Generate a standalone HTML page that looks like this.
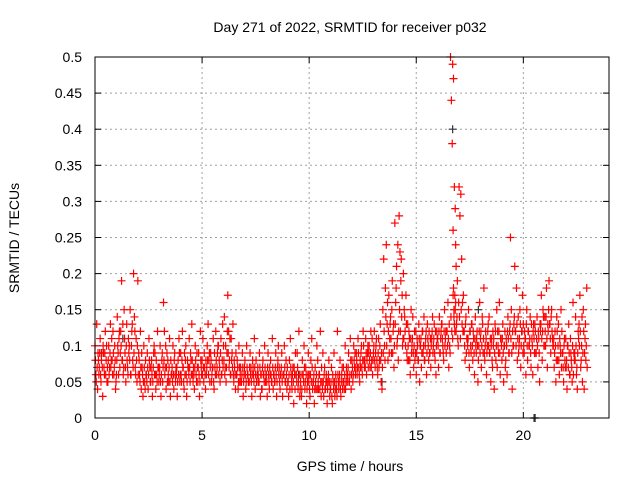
<!DOCTYPE html>
<html><head><meta charset="utf-8"><style>
body{margin:0;background:#fff;}
svg text{font-family:"Liberation Sans",sans-serif;font-size:14px;fill:#000;}
</style></head><body>
<svg id="chart" width="640" height="480" xmlns="http://www.w3.org/2000/svg">
<text x="350" y="32" text-anchor="middle">Day 271 of 2022, SRMTID for receiver p032</text>
<text x="350" y="471" text-anchor="middle">GPS time / hours</text>
<text transform="translate(19,238) rotate(-90)" text-anchor="middle">SRMTID / TECUs</text>
<g id="grid"></g>
<g id="points"></g>
<rect x="95" y="57" width="514" height="361" fill="none" stroke="#000" stroke-width="1"/>
</svg>
<script>
const xTicks=[0,5,10,15,20];
const yTicks=[0,0.05,0.1,0.15,0.2,0.25,0.3,0.35,0.4,0.45,0.5];
const yTickLabels=["0","0.05","0.1","0.15","0.2","0.25","0.3","0.35","0.4","0.45","0.5"];
const times=[0,0.2,0.4,0.6,0.8,1.0,1.2,1.4,1.6,1.8,2.0,2.2,2.4,2.6,2.8,3.0,3.2,3.4,3.6,3.8,4.0,4.2,4.4,4.6,4.8,5.0,5.2,5.4,5.6,5.8,6.0,6.2,6.4,6.6,6.8,7.0,7.2,7.4,7.6,7.8,8.0,8.2,8.4,8.6,8.8,9.0,9.2,9.4,9.6,9.8,10.0,10.2,10.4,10.6,10.8,11.0,11.2,11.4,11.6,11.8,12.0,12.2,12.4,12.6,12.8,13.0,13.2,13.4,13.6,13.8,14.0,14.2,14.4,14.6,14.8,15.0,15.2,15.4,15.6,15.8,16.0,16.2,16.4,16.6,16.7,16.8,17.0,17.2,17.4,17.6,17.8,18.0,18.2,18.4,18.6,18.8,19.0,19.2,19.4,19.6,19.8,20.0,20.2,20.4,20.6,20.8,21.0,21.2,21.4,21.6,21.8,22.0,22.2,22.4,22.6,22.8];
const values=[
[.10,.06,.13,.04,.08],[.07,.11,.05,.09,.03],[.09,.06,.12,.08,.05],[.05,.10,.07,.13,.08],[.08,.12,.06,.10,.04],
[.06,.14,.09,.11,.07],[.12,.19,.08,.06,.15],[.09,.05,.13,.07,.11],[.10,.15,.06,.12,.08],[.20,.14,.07,.11,.05],
[.19,.09,.06,.12,.04],[.07,.03,.10,.05,.08],[.06,.09,.04,.11,.07],[.05,.08,.03,.07,.10],[.09,.04,.06,.12,.07],
[.06,.10,.03,.08,.05],[.16,.12,.07,.04,.09],[.08,.05,.11,.03,.06],[.07,.10,.04,.09,.05],[.06,.03,.08,.11,.05],
[.09,.05,.12,.07,.04],[.06,.10,.03,.08,.07],[.11,.05,.08,.13,.06],[.07,.04,.10,.06,.09],[.05,.09,.03,.12,.07],
[.08,.11,.05,.07,.04],[.06,.10,.13,.08,.05],[.09,.05,.07,.11,.04],[.07,.12,.06,.09,.10],[.08,.05,.11,.06,.13],
[.10,.14,.07,.05,.09],[.17,.12,.08,.06,.11],[.09,.13,.05,.07,.04],[.06,.08,.04,.10,.05],[.07,.05,.09,.03,.06],
[.08,.04,.10,.06,.05],[.05,.09,.07,.03,.08],[.06,.11,.04,.08,.05],[.07,.05,.09,.03,.06],[.04,.08,.06,.10,.05],
[.06,.03,.09,.05,.07],[.08,.05,.11,.04,.06],[.05,.09,.03,.07,.10],[.07,.04,.06,.09,.03],[.06,.10,.05,.08,.04],
[.05,.03,.08,.11,.06],[.04,.07,.02,.06,.09],[.06,.09,.04,.12,.03],[.05,.03,.08,.06,.10],[.04,.07,.02,.05,.09],
[.06,.03,.08,.11,.04],[.05,.02,.07,.04,.10],[.08,.04,.06,.12,.03],[.05,.09,.03,.07,.04],[.06,.02,.05,.08,.03],
[.04,.07,.02,.05,.09],[.03,.06,.04,.12,.05],[.05,.08,.03,.06,.04],[.07,.04,.10,.05,.06],[.06,.09,.05,.11,.04],
[.08,.05,.10,.07,.06],[.09,.06,.11,.07,.05],[.07,.10,.06,.12,.08],[.08,.11,.06,.09,.07],[.10,.07,.12,.08,.06],
[.09,.12,.07,.10,.08],[.06,.11,.08,.13,.05],[.04,.15,.22,.10,.18],[.24,.13,.08,.17,.11],[.14,.09,.19,.12,.07],
[.27,.16,.21,.11,.08],[.28,.23,.19,.14,.10],[.20,.15,.12,.17,.09],[.13,.08,.11,.06,.15],[.10,.14,.07,.12,.09],
[.06,.11,.08,.13,.05],[.10,.07,.12,.09,.14],[.08,.11,.06,.13,.10],[.12,.09,.07,.11,.14],[.10,.13,.08,.06,.12],
[.11,.07,.14,.09,.12],[.13,.10,.08,.15,.11],[.09,.12,.16,.07,.10],[.50,.44,.38,.26,.15],[.49,.47,.32,.29,.21],
[.17,.24,.13,.19,.10],[.32,.28,.31,.22,.16],[.17,.12,.08,.14,.11],[.10,.15,.07,.12,.09],[.13,.08,.11,.06,.14],
[.09,.12,.05,.10,.16],[.11,.07,.14,.09,.18],[.08,.12,.06,.10,.13],[.14,.09,.05,.11,.07],[.10,.04,.13,.08,.15],
[.12,.09,.16,.06,.11],[.08,.13,.05,.10,.07],[.11,.06,.14,.09,.12],[.25,.15,.04,.10,.13],[.21,.12,.18,.08,.14],
[.10,.15,.07,.12,.17],[.13,.09,.11,.06,.15],[.08,.12,.10,.14,.07],[.11,.06,.13,.09,.12],[.09,.14,.07,.11,.05],
[.12,.17,.08,.15,.10],[.14,.10,.18,.07,.12],[.19,.13,.09,.15,.11],[.10,.07,.12,.05,.14],[.08,.13,.06,.10,.15],
[.12,.09,.05,.11,.07],[.07,.04,.10,.13,.06],[.11,.08,.05,.16,.09],[.09,.14,.06,.04,.12],[.13,.17,.07,.10,.05],
[.15,.04,.11,.08,.18]];
const values2=[
[.08,.05,.07,.09,.06],[.09,.06,.08,.07,.10],[.07,.09,.06,.10,.07],[.08,.06,.09,.07,.11],[.06,.09,.07,.08,.05],
[.08,.10,.06,.12,.09],[.10,.08,.13,.07,.11],[.07,.10,.08,.06,.09],[.08,.06,.10,.13,.07],[.09,.12,.06,.08,.10],
[.06,.08,.05,.07,.09],[.06,.05,.07,.04,.06],[.05,.07,.06,.08,.05],[.07,.06,.05,.09,.06],[.06,.08,.05,.07,.05],
[.07,.05,.06,.09,.07],[.08,.06,.10,.07,.05],[.06,.07,.05,.08,.06],[.05,.06,.08,.06,.07],[.07,.05,.06,.09,.06],
[.06,.08,.07,.05,.09],[.08,.06,.05,.07,.06],[.07,.09,.06,.08,.05],[.06,.07,.08,.05,.07],[.07,.06,.05,.08,.06],
[.06,.07,.09,.06,.08],[.07,.08,.06,.09,.07],[.08,.06,.07,.05,.09],[.06,.08,.07,.10,.06],[.07,.09,.06,.08,.07],
[.08,.06,.10,.07,.12],[.09,.07,.11,.06,.08],[.07,.06,.08,.06,.09],[.06,.07,.05,.07,.06],[.05,.06,.07,.05,.07],
[.06,.05,.07,.06,.05],[.07,.06,.05,.06,.07],[.05,.07,.06,.05,.06],[.06,.05,.07,.06,.04],[.07,.06,.05,.07,.06],
[.05,.07,.06,.04,.06],[.06,.05,.07,.06,.05],[.07,.06,.05,.08,.06],[.05,.06,.07,.05,.06],[.06,.07,.05,.06,.07],
[.05,.06,.04,.07,.05],[.06,.05,.07,.04,.06],[.05,.07,.05,.06,.04],[.06,.04,.06,.05,.07],[.05,.06,.04,.06,.05],
[.04,.06,.05,.07,.05],[.06,.04,.05,.06,.04],[.05,.06,.04,.05,.07],[.04,.05,.06,.04,.05],[.05,.04,.06,.05,.04],
[.05,.03,.06,.04,.05],[.04,.05,.03,.06,.04],[.06,.04,.05,.07,.05],[.05,.06,.04,.07,.05],[.07,.05,.06,.08,.06],
[.07,.06,.08,.09,.07],[.08,.07,.09,.06,.08],[.09,.07,.08,.10,.07],[.07,.09,.08,.10,.09],[.08,.09,.07,.11,.08],
[.10,.08,.09,.11,.07],[.09,.07,.10,.08,.09],[.07,.09,.12,.08,.14],[.10,.16,.12,.09,.13],[.11,.15,.09,.13,.10],
[.13,.18,.10,.24,.12],[.15,.12,.22,.17,.11],[.11,.14,.10,.13,.08],[.10,.12,.08,.11,.09],[.11,.09,.10,.08,.12],
[.09,.10,.08,.11,.10],[.11,.09,.12,.10,.08],[.10,.12,.09,.11,.08],[.09,.11,.10,.12,.09],[.11,.09,.12,.10,.11],
[.10,.12,.09,.11,.13],[.11,.09,.12,.10,.12],[.12,.10,.11,.13,.09],[.14,.12,.11,.18,.13],[.17,.14,.12,.16,.13],
[.15,.12,.14,.11,.16],[.14,.11,.15,.13,.12],[.12,.10,.13,.09,.11],[.11,.09,.12,.10,.13],[.10,.12,.09,.11,.10],
[.11,.10,.08,.12,.09],[.12,.10,.13,.11,.09],[.10,.11,.09,.12,.10],[.09,.11,.10,.08,.12],[.11,.09,.12,.10,.07],
[.10,.12,.09,.11,.10],[.11,.09,.10,.12,.08],[.10,.12,.11,.09,.13],[.11,.09,.12,.10,.14],[.12,.10,.13,.11,.09],
[.11,.13,.10,.12,.09],[.10,.12,.11,.13,.10],[.12,.10,.11,.09,.13],[.10,.12,.11,.13,.09],[.11,.10,.12,.09,.13],
[.13,.11,.12,.14,.10],[.12,.14,.11,.13,.15],[.13,.11,.14,.12,.10],[.11,.09,.10,.08,.12],[.10,.08,.11,.09,.07],
[.09,.07,.10,.08,.11],[.08,.10,.07,.09,.06],[.09,.07,.10,.06,.08],[.08,.10,.07,.09,.11],[.10,.12,.08,.14,.09],
[.12,.09,.13,.10,.07]];
const darkTimes=[16.7,20.5,20.55,1.3,9.5,17.9,0.3,13.4];
const darkValues=[0.40,0.0,0.0,0.11,0.06,0.15,0.09,0.05];

const L=95,R=609,T=57,B=418,XMAX=24,YMAX=0.5;
const sx=h=>L+(R-L)*h/XMAX;
const sy=v=>B-(B-T)*v/YMAX;
const NS="http://www.w3.org/2000/svg";
const grid=document.getElementById('grid');
const pts=document.getElementById('points');
function mk(tag,attrs,parent){const e=document.createElementNS(NS,tag);for(const k in attrs)e.setAttribute(k,attrs[k]);parent.appendChild(e);return e;}
xTicks.forEach(t=>{
  const x=sx(t);
  if(t>0){const g=mk('line',{x1:x,x2:x,y1:T,y2:B,stroke:'#a0a0a0','stroke-dasharray':'2,3'},grid);
  
  }
  mk('line',{x1:x,x2:x,y1:B,y2:B-6,stroke:'#000'},grid);
  mk('line',{x1:x,x2:x,y1:T,y2:T+6,stroke:'#000'},grid);
  const tx=mk('text',{x:x,y:B+22,'text-anchor':'middle'},grid);tx.textContent=String(t);
  
  
});
yTicks.forEach((v,i)=>{
  const y=sy(v);
  if(v>0&&v<YMAX){const g=mk('line',{x1:L,x2:R,y1:y,y2:y,stroke:'#a0a0a0','stroke-dasharray':'2,3'},grid);
  
  }
  mk('line',{x1:L,x2:L+6,y1:y,y2:y,stroke:'#000'},grid);
  mk('line',{x1:R,x2:R-6,y1:y,y2:y,stroke:'#000'},grid);
  const tx=mk('text',{x:82,y:y+5,'text-anchor':'end'},grid);tx.textContent=yTickLabels[i];
  
  
});
function plus(x,y,color,name){
  const p=mk('path',{d:`M${x-4},${y}H${x+4}M${x},${y-4}V${y+4}`,stroke:color,'stroke-width':1.2,fill:'none'},pts);
  
  
}
darkTimes.forEach((t,i)=>plus(sx(t),sy(darkValues[i]),'#333','dark-point'));
times.forEach((t,i)=>{values[i].forEach((v,j)=>plus(sx(t+j*0.04),sy(v),'#ff0000','srmtid-point'));});
times.forEach((t,i)=>{values2[i].forEach((v,j)=>plus(sx(t+0.02+j*0.04),sy(v),'#ff0000','srmtid-point'));});
</script>
</body></html>
